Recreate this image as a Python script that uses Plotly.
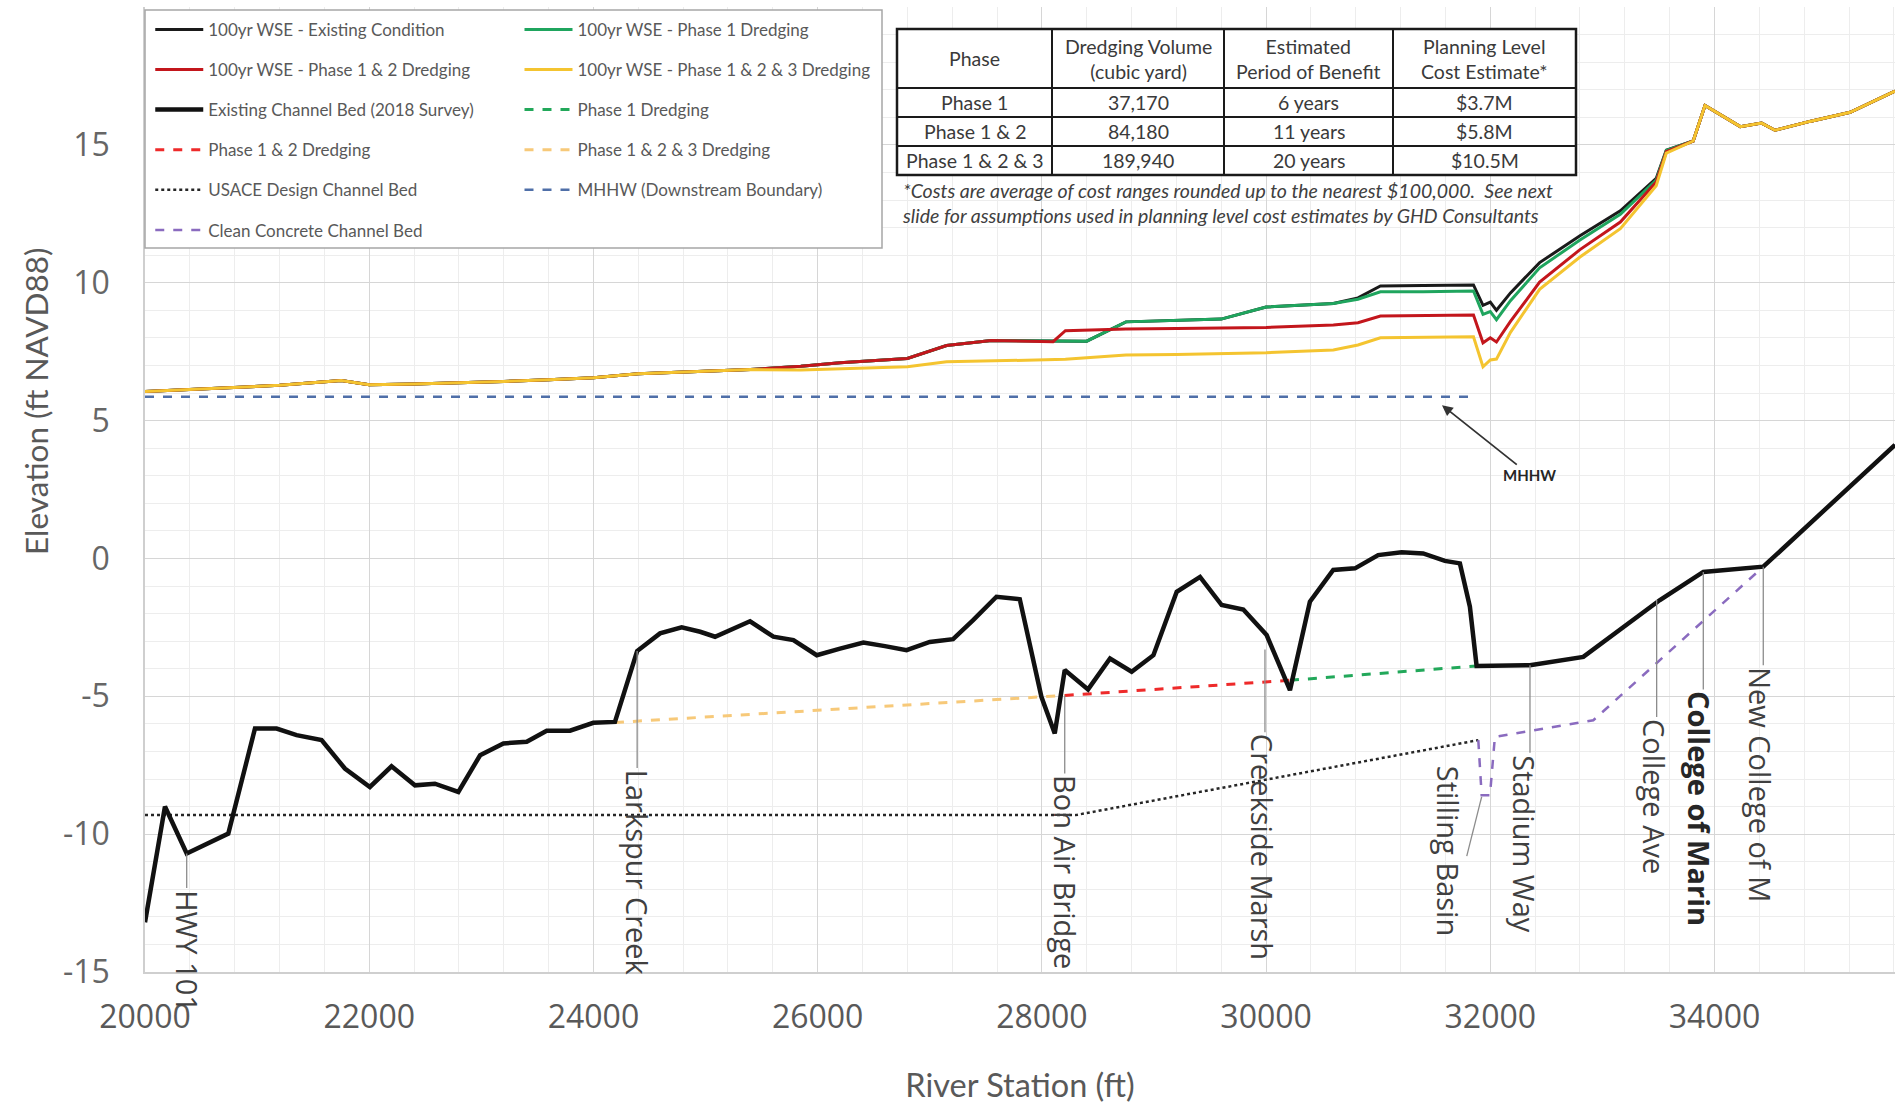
import plotly.graph_objects as go

# ---------------- data ----------------
x_tickvals = [20000, 22000, 24000, 26000, 28000, 30000, 32000, 34000]
x_ticktext = ["20000", "22000", "24000", "26000", "28000", "30000", "32000", "34000"]
y_tickvals = [-15, -10, -5, 0, 5, 10, 15, 20]
y_ticktext = ["-15", "-10", "-5", "0", "5", "10", "15", "20"]

wse_station = [20000, 20400, 20800, 21200, 21750, 22000, 22400, 22800, 23200, 23600,
               24000, 24400, 24900, 25400, 25850, 26200, 26800, 27150, 27550, 28100,
               28210, 28400, 28750, 29200, 29600, 30000, 30600, 30820, 31020, 31400,
               31850, 31935, 32000, 32055, 32180, 32440, 32800, 33160, 33480, 33570,
               33810, 33915, 34230, 34420, 34540, 34850, 35210, 35610]
wse_existing = [6.05, 6.12, 6.20, 6.28, 6.45, 6.30, 6.33, 6.37, 6.42, 6.48,
                6.55, 6.70, 6.78, 6.85, 6.97, 7.10, 7.25, 7.72, 7.90, 7.88,
                7.88, 7.88, 8.58, 8.62, 8.68, 9.12, 9.25, 9.45, 9.88, 9.90,
                9.92, 9.18, 9.30, 9.00, 9.63, 10.73, 11.70, 12.61, 13.78, 14.81,
                15.14, 16.43, 15.66, 15.79, 15.53, 15.85, 16.18, 16.95]
wse_phase1 = [6.05, 6.12, 6.20, 6.28, 6.45, 6.30, 6.33, 6.37, 6.42, 6.48,
              6.55, 6.70, 6.78, 6.85, 6.97, 7.10, 7.25, 7.72, 7.90, 7.88,
              7.88, 7.88, 8.58, 8.62, 8.68, 9.12, 9.25, 9.40, 9.67, 9.67,
              9.70, 8.85, 8.95, 8.66, 9.35, 10.54, 11.55, 12.48, 13.72, 14.80,
              15.14, 16.43, 15.66, 15.79, 15.53, 15.85, 16.18, 16.95]
wse_phase12 = [6.05, 6.12, 6.20, 6.28, 6.45, 6.30, 6.33, 6.37, 6.42, 6.48,
               6.55, 6.70, 6.78, 6.85, 6.97, 7.10, 7.25, 7.72, 7.90, 7.86,
               8.26, 8.28, 8.32, 8.34, 8.36, 8.38, 8.47, 8.55, 8.79, 8.82,
               8.83, 7.82, 8.00, 7.85, 8.60, 10.02, 11.20, 12.20, 13.65, 14.75,
               15.14, 16.43, 15.66, 15.79, 15.53, 15.85, 16.18, 16.95]
wse_phase123 = [6.05, 6.12, 6.20, 6.28, 6.45, 6.30, 6.33, 6.37, 6.42, 6.48,
                6.55, 6.70, 6.78, 6.85, 6.83, 6.88, 6.95, 7.13, 7.16, 7.19,
                7.22, 7.28, 7.38, 7.40, 7.43, 7.46, 7.56, 7.74, 8.00, 8.02,
                8.04, 6.95, 7.20, 7.23, 8.20, 9.76, 10.93, 11.96, 13.52, 14.70,
                15.14, 16.43, 15.66, 15.79, 15.53, 15.85, 16.18, 16.95]

bed_station = [20000, 20178, 20372, 20743, 20981, 21174, 21352, 21575, 21783, 22006,
               22199, 22408, 22586, 22795, 22989, 23197, 23405, 23583, 23791, 23999,
               24192, 24390, 24594, 24787, 24952, 25085, 25397, 25605, 25784, 25992,
               26200, 26408, 26600, 26793, 27000, 27208, 27387, 27595, 27803, 27996,
               28115, 28204, 28412, 28608, 28801, 28995, 29203, 29411, 29604, 29797,
               30005, 30213, 30391, 30599, 30793, 31000, 31209, 31401, 31595, 31729,
               31818, 31878, 32354, 32830, 33513, 33900, 34435, 34911, 35610]
bed_elev = [-13.2, -9.0, -10.7, -9.98, -6.17, -6.17, -6.41, -6.59, -7.62, -8.29,
            -7.54, -8.23, -8.17, -8.47, -7.14, -6.71, -6.65, -6.25, -6.25, -5.96,
            -5.93, -3.36, -2.72, -2.50, -2.66, -2.84, -2.28, -2.84, -2.96, -3.51,
            -3.27, -3.05, -3.18, -3.33, -3.03, -2.93, -2.24, -1.39, -1.48, -5.02,
            -6.35, -4.05, -4.75, -3.63, -4.11, -3.51, -1.21, -0.67, -1.69, -1.85,
            -2.78, -4.78, -1.57, -0.42, -0.36, 0.12, 0.22, 0.18, -0.09, -0.18,
            -1.75, -3.90, -3.87, -3.57, -1.51, -0.49, -0.30, 1.50, 4.12]

dredge1_station = [30213, 31878]
dredge1_elev = [-4.42, -3.90]
dredge12_station = [28204, 30213]
dredge12_elev = [-4.97, -4.42]
dredge123_station = [24192, 28204]
dredge123_elev = [-5.95, -4.97]

usace_station = [20000, 28300, 31893]
usace_elev = [-9.31, -9.31, -6.59]

mhhw_station = [20000, 31878]
mhhw_elev = [5.86, 5.86]

concrete_station = [31893, 31923, 31997, 32041, 32919, 34435, 34911, 35610]
concrete_elev = [-6.59, -8.59, -8.59, -6.47, -5.87, -0.30, 1.50, 4.12]

table_header = ["Phase", "Dredging Volume<br>(cubic yard)", "Estimated<br>Period of Benefit",
                "Planning Level<br>Cost Estimate*"]
table_phase = ["Phase 1", "Phase 1 & 2", "Phase 1 & 2 & 3"]
table_volume = ["37,170", "84,180", "189,940"]
table_period = ["6 years", "11 years", "20 years"]
table_cost = ["$3.7M", "$5.8M", "$10.5M"]

# landmark labels: (text, leader station, leader top elev, leader bottom elev, text station)
landmarks = [
    ("HWY 101", 20372, -10.7, -11.95, 20372),
    ("Larkspur Creek", 24390, -3.36, -7.6, 24390),
    ("Bon Air Bridge", 28204, -4.97, -7.8, 28210),
    ("Creekside Marsh", 29990, -3.3, -6.3, 29975),
    ("Stadium Way", 32354, -3.87, -7.05, 32310),
    ("College Ave", 33484, -1.51, -5.75, 33465),
    ("College of Marin", 33900, -0.49, -4.75, 33860),
    ("New College of M", 34435, -0.30, -3.87, 34410),
]

# ---------------- layout geometry ----------------
W, H = 1895, 1104
ML, MR, MT, MB = 145, 0, 7, 132
PW = W - ML - MR
PH = H - MT - MB


def px(xp):
    return (xp - ML) / PW


def py(yp):
    return (H - MB - yp) / PH


FONT = "Lato"
fig = go.Figure()


def add_line(x, y, name, color, width, dash, legend, rank):
    fig.add_trace(go.Scatter(
        x=x, y=y, mode="lines", name=name,
        line=dict(color=color, width=width, dash=dash),
        legend=legend, legendrank=rank, legendgroup=name,
        hoverinfo="skip"))


add_line(mhhw_station, mhhw_elev, "MHHW (Downstream Boundary)", "#4f6fa8", 2.5, "dash", "legend2", 5)
add_line(usace_station, usace_elev, "USACE Design Channel Bed", "#262626", 2.5, "dot", "legend", 5)
add_line(concrete_station, concrete_elev, "Clean Concrete Channel Bed", "#8a6bbf", 2.5, "dash", "legend", 6)
add_line(dredge123_station, dredge123_elev, "Phase 1 & 2 & 3 Dredging", "#f7c979", 3, "dash", "legend2", 4)
add_line(dredge12_station, dredge12_elev, "Phase 1 & 2 Dredging", "#ee2a2a", 3, "dash", "legend", 4)
add_line(dredge1_station, dredge1_elev, "Phase 1 Dredging", "#22a85a", 3, "dash", "legend2", 3)
add_line(bed_station, bed_elev, "Existing Channel Bed (2018 Survey)", "#111111", 4.5, "solid", "legend", 3)
add_line(wse_station, wse_existing, "100yr WSE - Existing Condition", "#1a1a1a", 3, "solid", "legend", 1)
add_line(wse_station, wse_phase1, "100yr WSE - Phase 1 Dredging", "#1fa55e", 3, "solid", "legend2", 1)
add_line(wse_station, wse_phase12, "100yr WSE - Phase 1 & 2 Dredging", "#c3161c", 3, "solid", "legend", 2)
add_line(wse_station, wse_phase123, "100yr WSE - Phase 1 & 2 & 3 Dredging", "#f4c430", 3, "solid", "legend2", 2)

shapes = []
annotations = []

# legend box
shapes.append(dict(type="rect", xref="paper", yref="paper", x0=px(145), x1=px(882), y0=py(248), y1=py(10),
                   fillcolor="white", line=dict(color="#a6a6a6", width=1.5), layer="above"))

# cost table (drawn as a grid of cells)
col_edges = [897, 1052, 1224, 1393, 1576]
row_edges = [29, 88, 117, 146, 175]
shapes.append(dict(type="rect", xref="paper", yref="paper", x0=px(col_edges[0]), x1=px(col_edges[-1]),
                   y0=py(row_edges[-1]), y1=py(row_edges[0]), fillcolor="white",
                   line=dict(color="#1a1a1a", width=2.5), layer="above"))
for xe in col_edges[1:-1]:
    shapes.append(dict(type="line", xref="paper", yref="paper", x0=px(xe), x1=px(xe),
                       y0=py(row_edges[-1]), y1=py(row_edges[0]),
                       line=dict(color="#1a1a1a", width=2), layer="above"))
for ye in row_edges[1:-1]:
    shapes.append(dict(type="line", xref="paper", yref="paper", x0=px(col_edges[0]), x1=px(col_edges[-1]),
                       y0=py(ye), y1=py(ye), line=dict(color="#1a1a1a", width=2), layer="above"))
table_cols = [table_phase, table_volume, table_period, table_cost]
for ci in range(4):
    xc = px((col_edges[ci] + col_edges[ci + 1]) / 2)
    annotations.append(dict(x=xc, y=py((row_edges[0] + row_edges[1]) / 2), xref="paper", yref="paper",
                            text=table_header[ci], showarrow=False, xanchor="center", yanchor="middle",
                            font=dict(family=FONT, size=19.5, color="#3a3a3a")))
    for ri in range(3):
        annotations.append(dict(x=xc, y=py((row_edges[ri + 1] + row_edges[ri + 2]) / 2),
                                xref="paper", yref="paper", text=table_cols[ci][ri], showarrow=False,
                                xanchor="center", yanchor="middle",
                                font=dict(family=FONT, size=19.5, color="#3a3a3a")))

# footnote
annotations.append(dict(x=px(900), y=py(177), xref="paper", yref="paper", xanchor="left", yanchor="top",
                        align="left", showarrow=False,
                        text="<i>*Costs are average of cost ranges rounded up to the nearest $100,000.  See next"
                             "<br>slide for assumptions used in planning level cost estimates by GHD Consultants</i>",
                        font=dict(family=FONT, size=19.5, color="#404040")))

# landmark labels
for text, xs, y0, y1, xt in landmarks:
    shapes.append(dict(type="line", xref="x", yref="y", x0=xs, x1=xs, y0=y0, y1=y1,
                       line=dict(color="#8c8c8c", width=1.3)))
    bold = text == "College of Marin"
    annotations.append(dict(x=xt, y=y1, xref="x", yref="y", text=f"<b>{text}</b>" if bold else text,
                            textangle=90, xanchor="center", yanchor="top", showarrow=False,
                            font=dict(family="Open Sans", size=29, color="#262626" if bold else "#404040")))
# Stilling Basin (diagonal leader)
shapes.append(dict(type="line", xref="x", yref="y", x0=31923, x1=31790, y0=-8.65, y1=-10.8,
                   line=dict(color="#8c8c8c", width=1.3)))
annotations.append(dict(x=31623, y=-7.45, xref="x", yref="y", text="Stilling Basin", textangle=90,
                        xanchor="center", yanchor="top", showarrow=False,
                        font=dict(family="Open Sans", size=29, color="#404040")))
# MHHW arrow
annotations.append(dict(x=31569, y=5.56, xref="x", yref="y", text="<b>MHHW</b>", showarrow=True,
                        ax=88, ay=70, arrowhead=2, arrowsize=1.2, arrowwidth=1.8, arrowcolor="#333333",
                        font=dict(family=FONT, size=15, color="#262626")))
# y-axis title
annotations.append(dict(x=px(36), y=py(402), xref="paper", yref="paper", text="Elevation (ft NAVD88)",
                        textangle=-90, showarrow=False, xanchor="center", yanchor="middle",
                        font=dict(family=FONT, size=31.5, color="#595959")))

legend_common = dict(xanchor="left", yanchor="top", bgcolor="rgba(0,0,0,0)", borderwidth=0,
                     font=dict(family=FONT, size=17, color="#595959"), itemwidth=48,
                     tracegroupgap=15, traceorder="grouped")

fig.update_layout(
    width=W, height=H,
    margin=dict(l=ML, r=MR, t=MT, b=MB),
    paper_bgcolor="white", plot_bgcolor="white",
    showlegend=True,
    legend=dict(x=0.003, y=0.995, **legend_common),
    legend2=dict(x=0.214, y=0.995, **legend_common),
    shapes=shapes, annotations=annotations,
    xaxis=dict(range=[20000, 35610], tickvals=x_tickvals, ticktext=x_ticktext,
               showgrid=True, gridcolor="#d6d6d6", gridwidth=1.3,
               minor=dict(dtick=400, showgrid=True, gridcolor="#ededed", gridwidth=1),
               showline=True, linecolor="#cfcfcf", linewidth=1.5, zeroline=False,
               ticks="", ticklabelstandoff=16,
               tickfont=dict(family="Open Sans", size=32, color="#595959"),
               title=dict(text="River Station (ft)", standoff=42,
                          font=dict(family=FONT, size=32.5, color="#595959"))),
    yaxis=dict(range=[-15, 20], tickvals=y_tickvals, ticktext=y_ticktext,
               showgrid=True, gridcolor="#d6d6d6", gridwidth=1.3,
               minor=dict(dtick=1, showgrid=True, gridcolor="#ededed", gridwidth=1),
               showline=True, linecolor="#cfcfcf", linewidth=1.5, zeroline=False,
               ticks="", ticklabelstandoff=27,
               tickfont=dict(family="Open Sans", size=32, color="#666666")),
)

fig.write_html("out.html")
